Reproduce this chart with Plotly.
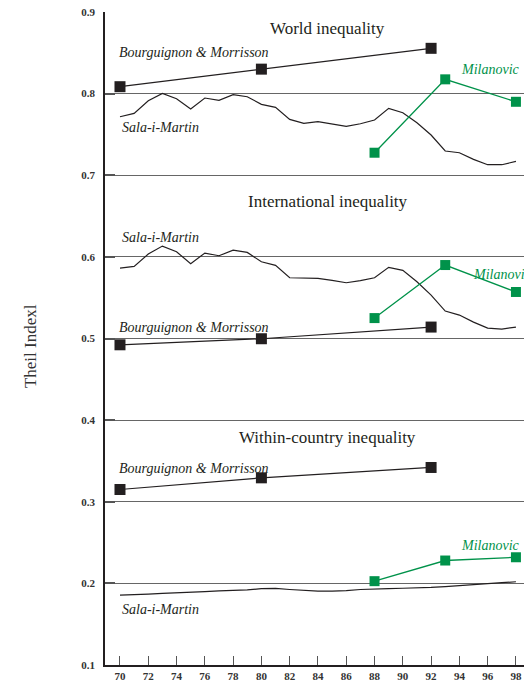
import plotly.graph_objects as go

years = list(range(70, 99))
x_ticks = list(range(70, 99, 2))
y_ticks = [0.1, 0.2, 0.3, 0.4, 0.5, 0.6, 0.7, 0.8, 0.9]

# World inequality
bm_years = [70, 80, 92]
world_bm = [0.8085, 0.830, 0.8555]
mil_years = [88, 93, 98]
world_mil = [0.7276, 0.8175, 0.790]
world_sala = [0.7717, 0.7758, 0.7913, 0.8003, 0.7938, 0.7811, 0.7946, 0.7918, 0.7987, 0.7962,
              0.7869, 0.7832, 0.7685, 0.7636, 0.7656, 0.7627, 0.7599, 0.7631, 0.7676, 0.7820,
              0.7766, 0.7644, 0.7493, 0.7297, 0.7276, 0.7195, 0.7129, 0.7129, 0.7170]

# International inequality
intl_bm = [0.4923, 0.4997, 0.514]
intl_mil = [0.525, 0.590, 0.557]
intl_sala = [0.5863, 0.5883, 0.6034, 0.6132, 0.6063, 0.5915, 0.6047, 0.6014, 0.6083, 0.6055,
             0.5940, 0.5896, 0.5744, 0.5744, 0.5736, 0.5712, 0.5683, 0.5708, 0.5744, 0.5872,
             0.5835, 0.5696, 0.5532, 0.5336, 0.5287, 0.5201, 0.5127, 0.5115, 0.5140]

# Within-country inequality
within_bm = [0.315, 0.3293, 0.342]
within_mil = [0.2027, 0.228, 0.232]
within_sala = [0.1855, 0.1857, 0.1868, 0.1878, 0.1888, 0.1893, 0.1900, 0.1908, 0.1913, 0.1920,
               0.1935, 0.1938, 0.1925, 0.1912, 0.1906, 0.1905, 0.1910, 0.1925, 0.1935, 0.1936,
               0.1940, 0.1941, 0.1950, 0.1960, 0.1970, 0.1985, 0.1995, 0.2008, 0.2020]

BLACK = "#231f20"
GREEN = "#00924a"
SERIF = "Liberation Serif"

fig = go.Figure()

def sala(y):
    fig.add_trace(go.Scatter(x=years, y=y, mode="lines",
                             line=dict(color=BLACK, width=1.2), showlegend=False,
                             hoverinfo="skip"))

def bm(y):
    fig.add_trace(go.Scatter(x=bm_years, y=y, mode="lines+markers",
                             line=dict(color=BLACK, width=1.2),
                             marker=dict(symbol="square", size=11, color=BLACK),
                             showlegend=False))

def mil(y):
    fig.add_trace(go.Scatter(x=mil_years, y=y, mode="lines+markers",
                             line=dict(color=GREEN, width=1.3),
                             marker=dict(symbol="square", size=10, color=GREEN),
                             showlegend=False))

for s, b, m in [(world_sala, world_bm, world_mil),
                (intl_sala, intl_bm, intl_mil),
                (within_sala, within_bm, within_mil)]:
    sala(s)
    bm(b)
    mil(m)

annots = []

def label(text, x, y, color=BLACK, xanchor="left", size=14, italic=True):
    annots.append(dict(x=x, y=y, xref="x", yref="y", text=text, showarrow=False,
                       xanchor=xanchor, yanchor="middle",
                       font=dict(family=SERIF, size=size, color=color,
                                 style="italic" if italic else "normal")))

def title(text, x, y):
    annots.append(dict(x=x, y=y, xref="x", yref="y", text=text, showarrow=False,
                       xanchor="left", yanchor="middle",
                       font=dict(family=SERIF, size=17, color=BLACK)))

title("World inequality", 80.45, 0.880)
title("International inequality", 78.9, 0.668)
title("Within-country inequality", 78.25, 0.379)

label("Bourguignon &amp; Morrisson", 69.8, 0.850)
label("Sala-i-Martin", 70.0, 0.758)
label("Milanovic", 98.4, 0.830, color=GREEN, xanchor="right")

label("Sala-i-Martin", 70.0, 0.624)
label("Bourguignon &amp; Morrisson", 69.8, 0.514)
label("Milanovic", 94.8, 0.579, color=GREEN)

label("Bourguignon &amp; Morrisson", 69.8, 0.341)
label("Milanovic", 98.4, 0.246, color=GREEN, xanchor="right")
label("Sala-i-Martin", 70.0, 0.168)

annots.append(dict(x=-0.178, y=0.489, xref="paper", yref="paper", text="Theil Indexl",
                   showarrow=False, textangle=-90, xanchor="center", yanchor="middle",
                   font=dict(family=SERIF, size=17, color="#333333")))

fig.update_layout(
    width=524, height=688,
    margin=dict(l=105, r=0, t=12, b=23),
    paper_bgcolor="white", plot_bgcolor="white",
    annotations=annots,
    showlegend=False,
    xaxis=dict(range=[68.94, 98.57], tickvals=x_ticks, ticktext=[str(v) for v in x_ticks],
               ticks="inside", ticklen=9, tickwidth=1, tickcolor="#555555",
               showline=True, linecolor=BLACK, linewidth=1.5, showgrid=False, zeroline=False,
               tickfont=dict(family=SERIF, size=11, color="#333333", weight="bold")),
    yaxis=dict(range=[0.1, 0.9], tickvals=y_ticks, ticktext=[f"{v:.1f}" for v in y_ticks],
               ticks="inside", ticklen=10, tickwidth=1.5, tickcolor="#555555",
               ticklabelstandoff=6,
               showline=True, linecolor=BLACK, linewidth=1.5,
               showgrid=True, gridcolor="#666666", gridwidth=1.3, zeroline=False,
               tickfont=dict(family=SERIF, size=11, color="#333333", weight="bold")),
)

fig.write_html("out.html", config={"displayModeBar": False},
               post_script="document.body.style.margin='0';document.body.style.overflow='hidden';")
